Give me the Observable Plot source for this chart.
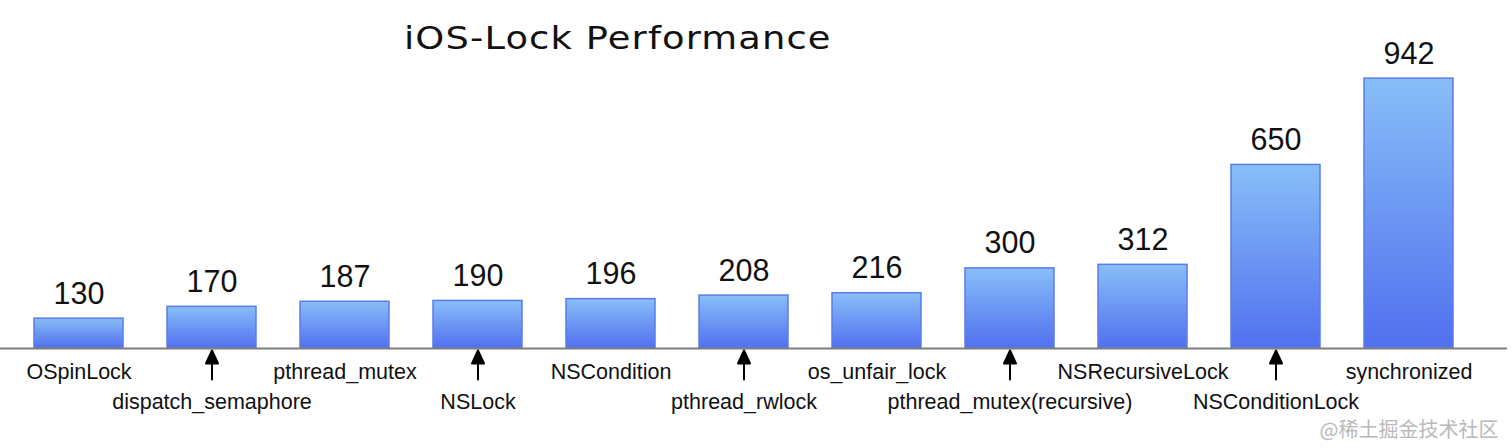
<!DOCTYPE html>
<html><head><meta charset="utf-8">
<script src="https://cdn.jsdelivr.net/npm/d3@7"></script>
<script src="https://cdn.jsdelivr.net/npm/@observablehq/plot@0.6"></script>
<style>
body{margin:0;background:#fff;width:1512px;height:448px;overflow:hidden;font-family:"Liberation Sans",Arial,sans-serif;position:relative}
#title{position:absolute;left:404px;top:22px;font-family:"DejaVu Sans",sans-serif;font-size:32px;line-height:32px;letter-spacing:1px;transform:scaleX(1.15);transform-origin:left top;color:#111;white-space:nowrap;z-index:2}
#chart svg{display:block}
</style>
</head><body>
<div id="title">iOS-Lock Performance</div>
<div id="chart"></div>
<script>
const locks = ["OSpinLock","dispatch_semaphore","pthread_mutex","NSLock","NSCondition","pthread_rwlock","os_unfair_lock","pthread_mutex(recursive)","NSRecursiveLock","NSConditionLock","synchronized"];
const timings = [130,170,187,190,196,208,216,300,312,650,942];
const labelRows = ["upper","lower","upper","lower","upper","lower","upper","lower","upper","lower","upper"];
const watermark = "@稀土掘金技术社区";
const baseValue = 29;

const data = locks.map((lock, i) => ({lock, value: timings[i], row: labelRows[i]}));
const upper = data.filter(d => d.row === "upper");
const lower = data.filter(d => d.row === "lower");

const arrowShape = {
  draw(ctx, l) {
    ctx.moveTo(0, 0); ctx.lineTo(0, -l + 11);
    ctx.moveTo(-6, -l + 13); ctx.lineTo(0, -l); ctx.lineTo(6, -l + 13); ctx.closePath();
  }
};

const base = 348;
const pxPerUnit = 0.2956;
const chart = Plot.plot({
  width: 1512, height: 448,
  marginTop: 0, marginBottom: 0, marginLeft: 0, marginRight: 5,
  x: {type: "band", domain: locks, range: [32, 1455], paddingInner: 0.333, paddingOuter: 0, axis: null},
  y: {type: "linear", domain: [baseValue, 1000], range: [base, base - (1000 - baseValue) * pxPerUnit], axis: null},
  style: {background: "#fff", fontFamily: "'Liberation Sans', Arial, sans-serif", color: "#111"},
  marks: [
    Plot.barY(data, {x: "lock", y1: () => baseValue, y2: "value", fill: "url(#barGrad)", stroke: "#5b7ce8", strokeWidth: 1.5}),
    Plot.ruleY([baseValue], {stroke: "#7d7d7d", strokeWidth: 2}),
    Plot.text(data, {x: "lock", y: "value", text: d => String(d.value), dy: -15, lineAnchor: "bottom", fontSize: 30.5, fill: "#111"}),
    Plot.text(upper, {x: "lock", y: () => baseValue, text: "lock", dy: 30, lineAnchor: "bottom", fontSize: 21.5, fill: "#111"}),
    Plot.text(lower, {x: "lock", y: () => baseValue, text: "lock", dy: 60, lineAnchor: "bottom", fontSize: 21.5, fill: "#111"}),
    Plot.vector(lower, {x: "lock", y: () => baseValue, length: 29, rotate: 0, anchor: "start", shape: arrowShape, stroke: "#000", fill: "#000", strokeWidth: 2, dy: 31}),
    Plot.text([watermark], {frameAnchor: "bottom-right", text: d => d, dx: -9, dy: -12, lineAnchor: "bottom", fontSize: 20, fill: "#b9b9b9", fontFamily: "'Noto Sans CJK SC', sans-serif"})
  ]
});

const defs = d3.select(chart).insert("defs", ":first-child");
const grad = defs.append("linearGradient").attr("id", "barGrad").attr("x1", 0).attr("y1", 0).attr("x2", 0).attr("y2", 1);
grad.append("stop").attr("offset", "0%").attr("stop-color", "#88bef8");
grad.append("stop").attr("offset", "100%").attr("stop-color", "#5170ef");

document.getElementById("chart").appendChild(chart);
</script>
</body></html>
